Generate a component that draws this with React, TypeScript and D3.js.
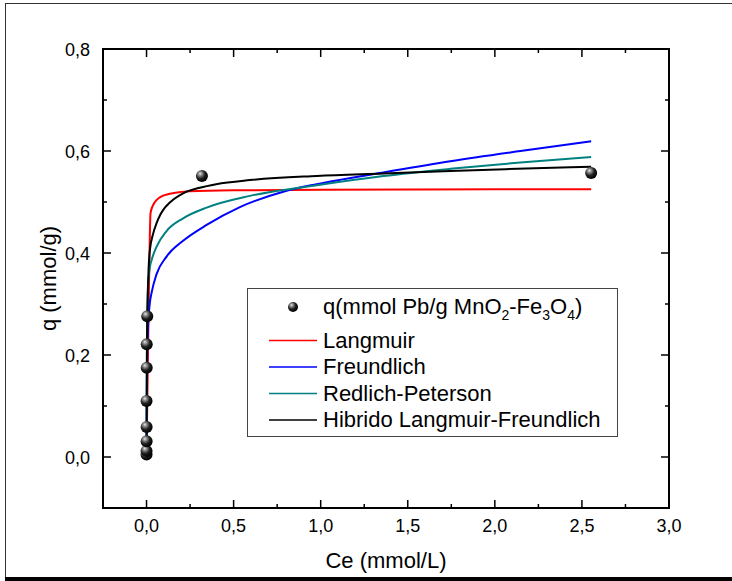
import React from "react";
import * as d3 from "d3";

// ---- Data ----
const pointC = [0.0, 0.0, 0.0005, 0.0005, 0.0, 0.001, 0.001, 0.004, 0.318, 2.553];
const pointQ = [0.005, 0.012, 0.031, 0.059, 0.11, 0.175, 0.221, 0.276, 0.551, 0.557];

const langmuirC = [0, 0.004, 0.012, 0.023, 0.035, 0.048, 0.076, 0.134, 0.249, 0.5, 1.0, 1.5, 2.0, 2.553];
const langmuirQ = [0, 0.1, 0.29, 0.478, 0.492, 0.5, 0.509, 0.516, 0.521, 0.523, 0.524, 0.5245, 0.525, 0.525];

const freundlichC = [0, 0.002, 0.008, 0.019, 0.029, 0.057, 0.115, 0.21, 0.345, 0.536, 0.785, 0.977, 1.36, 1.744, 2.147, 2.553];
const freundlichQ = [0, 0.15, 0.25, 0.302, 0.322, 0.358, 0.393, 0.424, 0.455, 0.49, 0.52, 0.535, 0.558, 0.58, 0.6, 0.619];

const redlichC = [0, 0.003, 0.008, 0.019, 0.029, 0.057, 0.115, 0.21, 0.345, 0.594, 0.977, 1.36, 1.744, 2.128, 2.553];
const redlichQ = [0, 0.25, 0.33, 0.372, 0.386, 0.412, 0.443, 0.468, 0.489, 0.512, 0.533, 0.551, 0.565, 0.577, 0.588];

const hibridoC = [0, 0.002, 0.006, 0.012, 0.019, 0.038, 0.057, 0.076, 0.095, 0.134, 0.21, 0.306, 0.4, 0.594, 0.977, 1.36, 1.744, 2.128, 2.553];
const hibridoQ = [0, 0.2, 0.3, 0.37, 0.405, 0.438, 0.458, 0.473, 0.484, 0.499, 0.517, 0.528, 0.535, 0.543, 0.551, 0.556, 0.561, 0.565, 0.569];

const xTicks = [0, 0.5, 1.0, 1.5, 2.0, 2.5, 3.0];
const xMinor = [-0.25, 0.25, 0.75, 1.25, 1.75, 2.25, 2.75];
const yTicks = [0, 0.2, 0.4, 0.6, 0.8];
const yMinor = [-0.1, 0.1, 0.3, 0.5, 0.7];

const seriesNames = ["Langmuir", "Freundlich", "Redlich-Peterson", "Hibrido Langmuir-Freundlich"];
const seriesColors = ["#ff0000", "#0000ff", "#008080", "#000000"];

const FONT = "'Liberation Sans', Arial, sans-serif";

export default function App() {
  const x = d3.scaleLinear().domain([-0.25, 3.0]).range([103, 669]);
  const y = d3.scaleLinear().domain([-0.1, 0.8]).range([508, 49]);
  const [x0, x1] = x.range();
  const [y0, y1] = y.range();

  const curves = [
    [langmuirC, langmuirQ],
    [freundlichC, freundlichQ],
    [redlichC, redlichQ],
    [hibridoC, hibridoQ],
  ];
  const line = d3
    .line<[number, number]>()
    .x((d) => x(d[0]))
    .y((d) => y(d[1]))
    .curve(d3.curveMonotoneX);

  const fmt = (v: number) => d3.format(".1f")(v).replace(".", ",");
  const majLen = 8;
  const minLen = 4;

  const legX = 247;
  const legY = 288;
  const legW = 370;
  const legH = 148;
  const rowBase = [314, 347.5, 374, 400.5, 427];

  return (
    <svg
      width={732}
      height={581}
      style={{ position: "absolute", left: 0, top: 0, background: "#fff" }}
      fontFamily={FONT}
    >
      <defs>
        <radialGradient id="sph" cx="38%" cy="35%" r="65%" fx="35%" fy="30%">
          <stop offset="0%" stopColor="#e8e8e8" />
          <stop offset="25%" stopColor="#8a8a8a" />
          <stop offset="60%" stopColor="#202020" />
          <stop offset="100%" stopColor="#000" />
        </radialGradient>
      </defs>
      <rect x={0} y={0} width={732} height={581} fill="#fff" />
      {/* outer frame */}
      <line x1={5} y1={3.5} x2={732} y2={3.5} stroke="#333" strokeWidth={1} />
      <line x1={5.5} y1={3} x2={5.5} y2={578} stroke="#333" strokeWidth={1} />
      <rect x={5} y={577} width={727} height={4} fill="#000" />

      {/* curves */}
      {curves.map((c, i) => (
        <path
          key={i}
          d={line(c[0].map((v, k) => [v, c[1][k]] as [number, number])) || ""}
          fill="none"
          stroke={seriesColors[i]}
          strokeWidth={2}
        />
      ))}

      {/* points */}
      {pointC.map((c, i) => (
        <circle key={i} cx={x(c)} cy={y(pointQ[i])} r={6} fill="url(#sph)" />
      ))}

      {/* axes box */}
      <rect x={x0} y={y1} width={x1 - x0} height={y0 - y1} fill="none" stroke="#000" strokeWidth={2} />
      {xTicks.map((t) => (
        <g key={"xt" + t}>
          <line x1={x(t)} x2={x(t)} y1={y0} y2={y0 - majLen} stroke="#000" strokeWidth={1.5} />
          <line x1={x(t)} x2={x(t)} y1={y1} y2={y1 + majLen} stroke="#000" strokeWidth={1.5} />
          <text x={x(t)} y={532} fontSize={18} textAnchor="middle" fill="#000">
            {fmt(t)}
          </text>
        </g>
      ))}
      {xMinor.map((t) => (
        <g key={"xm" + t}>
          <line x1={x(t)} x2={x(t)} y1={y0} y2={y0 - minLen} stroke="#000" strokeWidth={1.5} />
          <line x1={x(t)} x2={x(t)} y1={y1} y2={y1 + minLen} stroke="#000" strokeWidth={1.5} />
        </g>
      ))}
      {yTicks.map((t) => (
        <g key={"yt" + t}>
          <line x1={x0} x2={x0 + majLen} y1={y(t)} y2={y(t)} stroke="#000" strokeWidth={1.5} />
          <line x1={x1} x2={x1 - majLen} y1={y(t)} y2={y(t)} stroke="#000" strokeWidth={1.5} />
          <text x={90} y={y(t) + 6.5} fontSize={18} textAnchor="end" fill="#000">
            {fmt(t)}
          </text>
        </g>
      ))}
      {yMinor.map((t) => (
        <g key={"ym" + t}>
          <line x1={x0} x2={x0 + minLen} y1={y(t)} y2={y(t)} stroke="#000" strokeWidth={1.5} />
          <line x1={x1} x2={x1 - minLen} y1={y(t)} y2={y(t)} stroke="#000" strokeWidth={1.5} />
        </g>
      ))}

      {/* axis titles */}
      <text x={(x0 + x1) / 2} y={568} fontSize={22} textAnchor="middle" fill="#000">
        Ce (mmol/L)
      </text>
      <text
        transform={`translate(56, ${(y0 + y1) / 2}) rotate(-90)`}
        fontSize={22}
        textAnchor="middle"
        fill="#000"
      >
        q (mmol/g)
      </text>

      {/* legend */}
      <rect x={legX + 0.5} y={legY + 0.5} width={legW} height={legH} fill="#fff" stroke="#444" strokeWidth={1} />
      <circle cx={293} cy={307} r={5} fill="url(#sph)" />
      <text x={323} y={rowBase[0]} fontSize={22} fill="#000">
        q(mmol Pb/g MnO
        <tspan fontSize={14} dy={6}>2</tspan>
        <tspan dy={-6}>-Fe</tspan>
        <tspan fontSize={14} dy={6}>3</tspan>
        <tspan dy={-6}>O</tspan>
        <tspan fontSize={14} dy={6}>4</tspan>
        <tspan dy={-6}>)</tspan>
      </text>
      {seriesNames.map((n, i) => (
        <g key={n}>
          <line
            x1={269}
            x2={317}
            y1={rowBase[i + 1] - 7}
            y2={rowBase[i + 1] - 7}
            stroke={seriesColors[i]}
            strokeWidth={1.5}
          />
          <text x={323} y={rowBase[i + 1]} fontSize={22} fill="#000">
            {n}
          </text>
        </g>
      ))}
    </svg>
  );
}
